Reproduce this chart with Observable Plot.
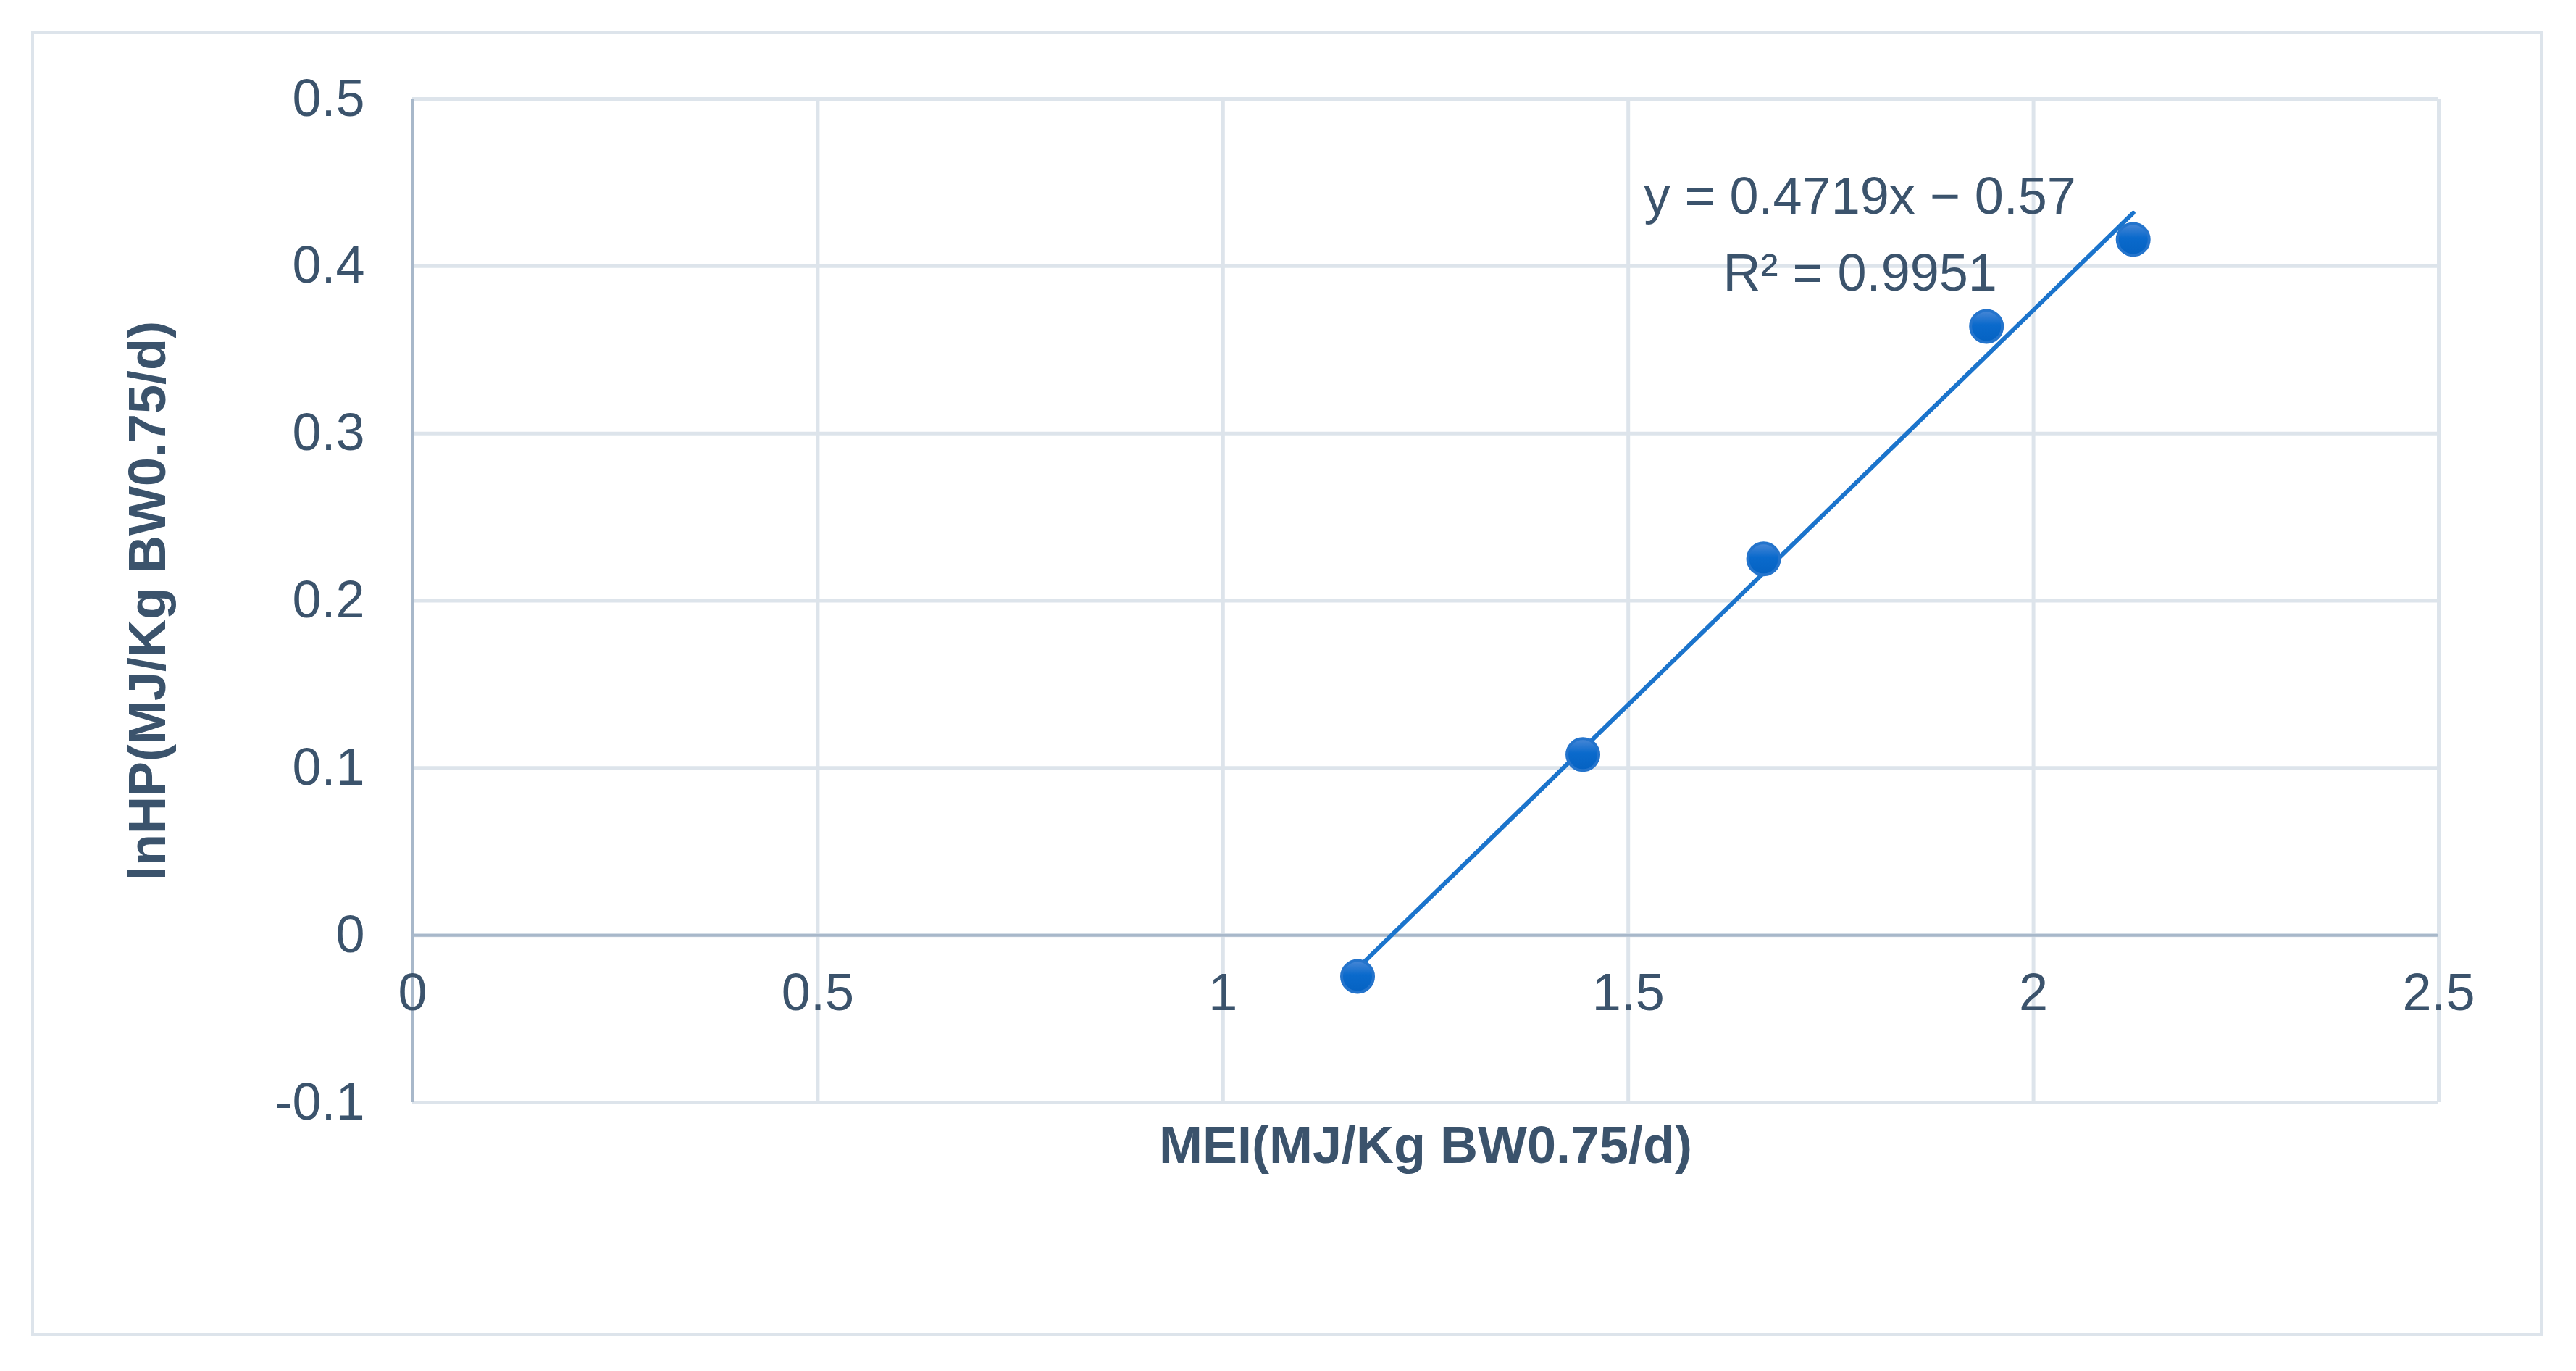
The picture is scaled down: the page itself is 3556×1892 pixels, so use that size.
<!DOCTYPE html>
<html>
<head>
<meta charset="utf-8">
<script src="https://cdn.jsdelivr.net/npm/d3@7"></script>
<script src="https://cdn.jsdelivr.net/npm/@observablehq/plot@0.6"></script>
<style>
html, body { margin: 0; padding: 0; background: #ffffff; }
#wrap { position: relative; width: 3556px; height: 1892px; }
#frame { position: absolute; left: 43px; top: 43px; width: 3459px; height: 1793px; border: 4px solid #dde4eb; pointer-events: none; z-index: 2; }
#wrap svg { position: absolute; left: 0; top: 0; }
</style>
</head>
<body>
<div id="wrap"><div id="frame"></div></div>
<script>
// ---- data ----
const meiValues  = [1.166, 1.444, 1.667, 1.942, 2.123];
const lnhpValues = [-0.0246, 0.108, 0.225, 0.364, 0.416];
const xTicks = [0, 0.5, 1, 1.5, 2, 2.5];
const xTickLabels = ["0", "0.5", "1", "1.5", "2", "2.5"];
const yTicks = [-0.1, 0, 0.1, 0.2, 0.3, 0.4, 0.5];
const yTickLabels = ["-0.1", "0", "0.1", "0.2", "0.3", "0.4", "0.5"];
const trendSlope = 0.4719;
const trendIntercept = -0.57;
const equationText = "y = 0.4719x − 0.57\nR² = 0.9951";
const equationAnchor = {x: 1.786, y: 0.423};
const xTitle = "MEI(MJ/Kg BW0.75/d)";
const yTitle = "lnHP(MJ/Kg BW0.75/d)";

// ---- styles ----
const FONT = "'Liberation Sans', Arial, sans-serif";
const TEXT = "#3b536c";
const GRID = "#dde4eb";
const AXIS = "#a8b8ca";
const LINE = "#1b74cc";

const points = meiValues.map((x, i) => ({x, y: lnhpValues[i]}));
const trend = d3.extent(meiValues).map(x => ({x, y: trendSlope * x + trendIntercept}));

const chart = Plot.plot({
  width: 3556,
  height: 1892,
  marginLeft: 569,
  marginRight: 190,
  marginTop: 136,
  marginBottom: 371,
  x: {domain: [0, 2.5], axis: null},
  y: {domain: [-0.1, 0.5]},
  style: {fontFamily: FONT, background: "transparent", overflow: "visible"},
  marks: [
    Plot.gridX(xTicks, {stroke: GRID, strokeOpacity: 1, strokeWidth: 5}),
    Plot.gridY(yTicks, {stroke: GRID, strokeOpacity: 1, strokeWidth: 5}),
    Plot.ruleY([0], {stroke: AXIS, strokeWidth: 4}),
    Plot.ruleX([0], {stroke: AXIS, strokeWidth: 4}),
    Plot.axisY(yTicks, {
      tickSize: 0, tickPadding: 66, fontSize: 72, fill: TEXT, label: null,
      tickFormat: d => yTickLabels[yTicks.indexOf(d)]
    }),
    Plot.text(xTicks, {
      x: d => d, y: () => 0, dy: 80,
      text: d => xTickLabels[xTicks.indexOf(d)],
      fontSize: 72, fill: TEXT, textAnchor: "middle", lineAnchor: "middle"
    }),
    Plot.line(trend, {x: "x", y: "y", stroke: LINE, strokeWidth: 6}),
    Plot.dot(points, {x: "x", y: "y", r: 22, fill: "url(#dotGrad)", stroke: "#2474cc", strokeWidth: 4}),
    Plot.text([equationText], {
      x: () => equationAnchor.x, y: () => equationAnchor.y,
      text: d => d, fontSize: 72, fill: TEXT, textAnchor: "middle", lineAnchor: "middle", lineHeight: 1.47
    }),
    Plot.text([xTitle], {
      frameAnchor: "bottom", dy: 60, text: d => d,
      fontSize: 72, fontWeight: "bold", fill: TEXT, textAnchor: "middle", lineAnchor: "middle"
    }),
    Plot.text([yTitle], {
      frameAnchor: "left", dx: -365, rotate: -90, text: d => d,
      fontSize: 72, fontWeight: "bold", fill: TEXT, textAnchor: "middle", lineAnchor: "middle"
    })
  ]
});

const defs = d3.select(chart).insert("defs", ":first-child");
const grad = defs.append("linearGradient").attr("id", "dotGrad")
  .attr("x1", 0).attr("y1", 0).attr("x2", 0).attr("y2", 1);
grad.append("stop").attr("offset", "0%").attr("stop-color", "#4a88d6");
grad.append("stop").attr("offset", "45%").attr("stop-color", "#0a6acc");
grad.append("stop").attr("offset", "100%").attr("stop-color", "#0562c2");

document.getElementById("wrap").appendChild(chart);
</script>
</body>
</html>
